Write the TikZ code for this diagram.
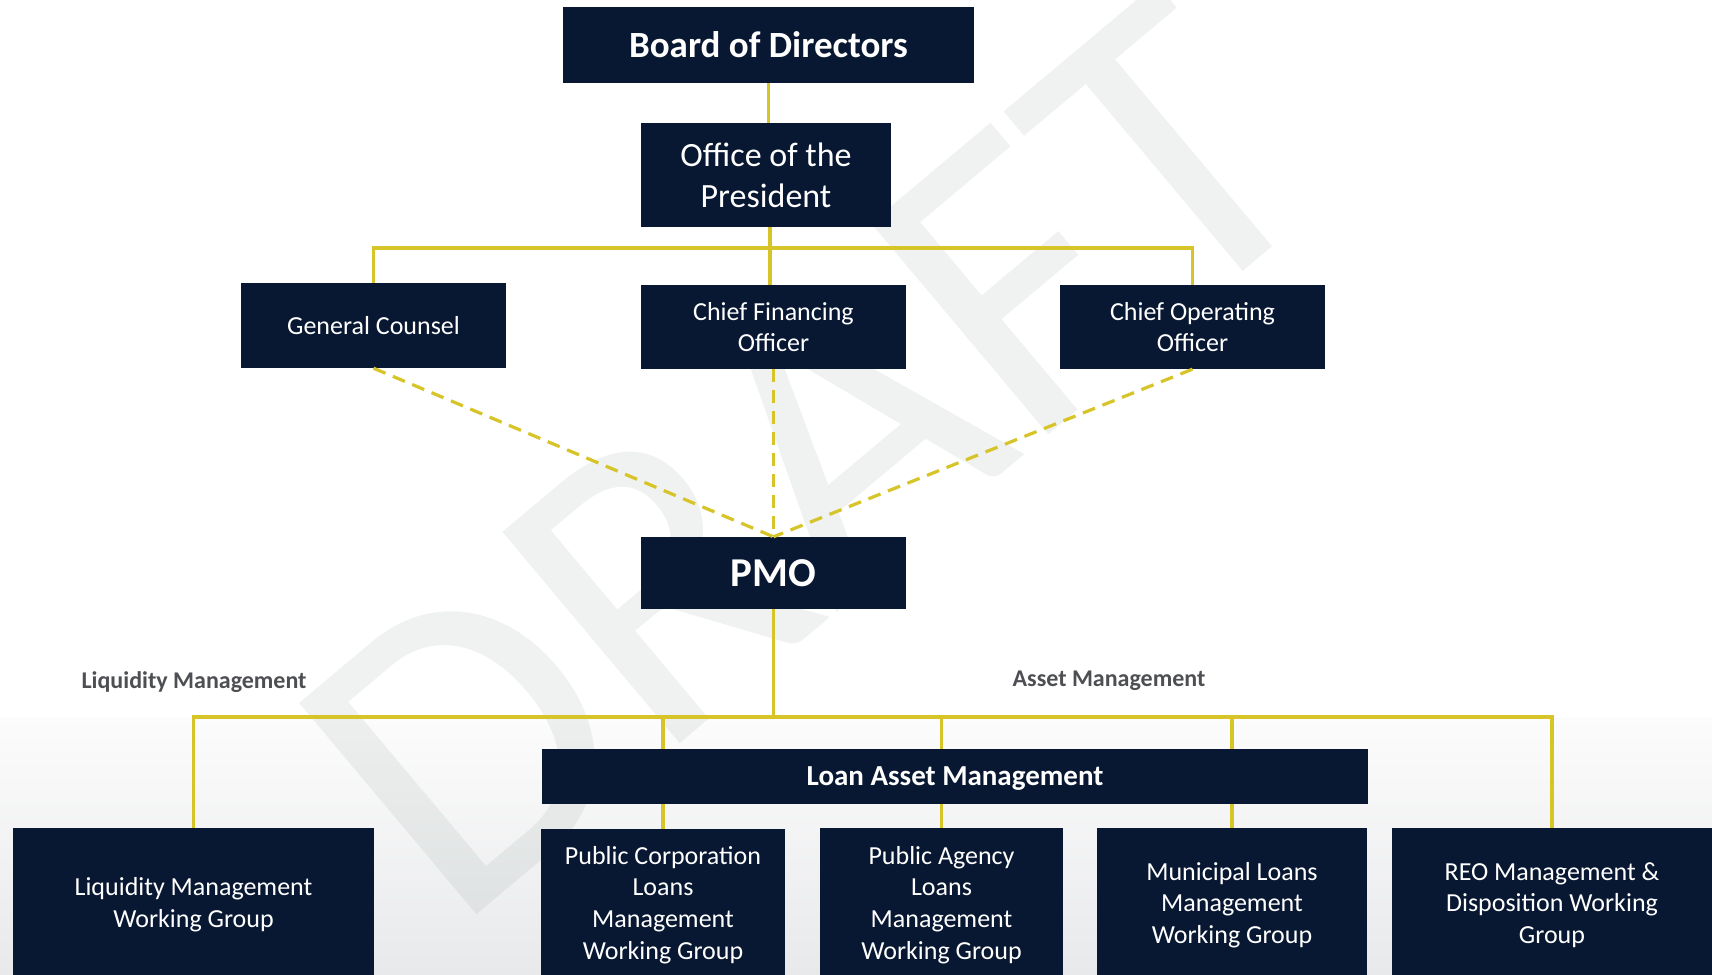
\documentclass[tikz,border=0pt]{standalone}
\usepackage{fontspec}
\setmainfont{Carlito}
\usetikzlibrary{calc}
\definecolor{navy}{RGB}{9,24,50}
\definecolor{gold}{RGB}{214,196,40}
\definecolor{lblgray}{RGB}{77,79,83}
\definecolor{wmcol}{RGB}{110,130,120}
\definecolor{bgbottom}{RGB}{232,233,235}
\definecolor{bgtop}{RGB}{252,252,252}
\tikzset{
  orgbox/.style={fill=navy, text=white, align=center, inner sep=0pt,
    font=\fontsize{26}{31.7}\selectfont},
  boldbox/.style={orgbox, font=\bfseries\fontsize{#1}{#1}\selectfont},
  lbl/.style={text=lblgray, inner sep=0pt, font=\bfseries\fontsize{24}{28}\selectfont},
  conn/.style={draw=gold, line width=3.2pt, line join=miter},
  dconn/.style={draw=gold, line width=3.2pt, dash pattern=on 13pt off 8pt},
}
\begin{document}
\begin{tikzpicture}[x=1pt,y=-1pt]
\path[use as bounding box, clip] (0,0) rectangle (1712,974);
\fill[white] (0,0) rectangle (1712,974);
\shade[top color=bgtop, bottom color=bgbottom] (0,718) rectangle (1712,974);
% watermark
\node[rotate=40, anchor=base west, inner sep=0pt, text=wmcol, text opacity=0.1,
  font=\fontsize{430}{430}\selectfont] (wm) at (454,934) {DRAFT};
% nodes
\node[boldbox=37, minimum width=411pt, minimum height=76pt] (board) at (768.5,45) {Board of Directors};
\node[orgbox, font=\fontsize{34}{41}\selectfont, minimum width=250pt, minimum height=104pt] (office) at (766,175) {Office of the\\President};
\node[orgbox, minimum width=265pt, minimum height=85pt] (gc) at (373.5,325.5) {General Counsel};
\node[orgbox, minimum width=265pt, minimum height=84pt] (cfo) at (773.5,327) {Chief Financing\\Officer};
\node[orgbox, minimum width=265pt, minimum height=84pt] (coo) at (1192.5,327) {Chief Operating\\Officer};
\node[boldbox=41, minimum width=265pt, minimum height=72pt] (pmo) at (773.5,573) {PMO};
\node[lbl] (liqlbl) at (194,682) {Liquidity Management};
\node[lbl] (assetlbl) at (1109,681) {Asset Management};
\node[boldbox=29, text depth=0pt, minimum width=826pt, minimum height=55pt] (lam) at (955,776.5) {Loan Asset Management};
\node[orgbox, minimum width=361pt, minimum height=154pt] (lwg) at (193.5,905) {Liquidity Management\\Working Group};
\node[orgbox, minimum width=244pt, minimum height=152pt] (pcwg) at (663,905) {Public Corporation\\Loans\\Management\\Working Group};
\node[orgbox, minimum width=243pt, minimum height=154pt] (pawg) at (941.5,905) {Public Agency\\Loans\\Management\\Working Group};
\node[orgbox, minimum width=270pt, minimum height=154pt] (mwg) at (1232,905) {Municipal Loans\\Management\\Working Group};
\node[orgbox, minimum width=320pt, minimum height=154pt] (reo) at (1552,905) {REO Management \&\\Disposition Working\\Group};
% connectors
\coordinate (bar) at (770,248);
\coordinate (bus) at (773.5,717);
\draw[conn] (board.south) -- (board.south |- office.north);
\draw[conn] (office.south -| bar) -- (bar);
\draw[conn] (gc.north) |- (bar) -| (coo.north);
\draw[conn] (bar) -- (bar |- cfo.north);
\draw[dconn] (gc.south) -- (pmo.north);
\draw[dconn] (cfo.south) -- (pmo.north);
\draw[dconn] (coo.south) -- (pmo.north);
\draw[conn] (pmo.south) -- (bus);
\draw[conn] (lwg.north) |- (bus) -| (reo.north);
\draw[conn] (pcwg.north |- bus) -- (pcwg.north |- lam.north);
\draw[conn] (pcwg.north |- lam.south) -- (pcwg.north);
\draw[conn] (pawg.north |- bus) -- (pawg.north |- lam.north);
\draw[conn] (pawg.north |- lam.south) -- (pawg.north);
\draw[conn] (mwg.north |- bus) -- (mwg.north |- lam.north);
\draw[conn] (mwg.north |- lam.south) -- (mwg.north);
\end{tikzpicture}
\end{document}
